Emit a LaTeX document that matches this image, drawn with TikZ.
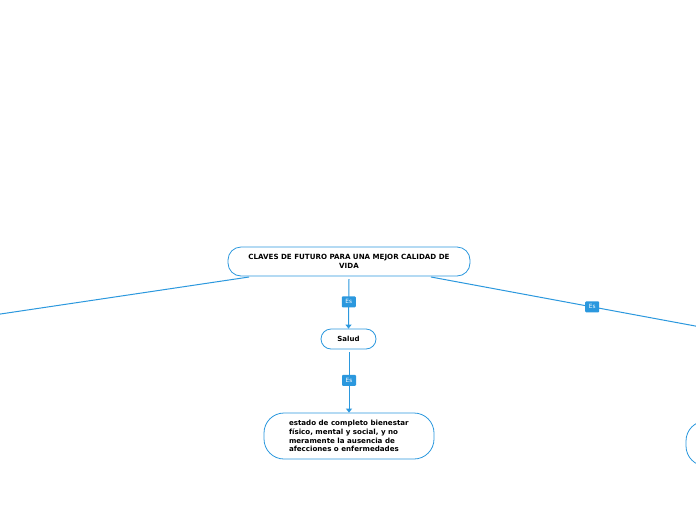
\documentclass[tikz,border=0pt]{standalone}
\usepackage{fontspec}
\setmainfont{DejaVu Sans}
\usetikzlibrary{arrows.meta}
\definecolor{mblue}{HTML}{2B98DE}
\tikzset{
  x=1pt,y=-1pt,
  topic/.style={draw=mblue,line width=0.8pt,rounded corners=13pt,fill=white,align=center,font=\fontsize{7.1}{8.8}\selectfont\bfseries,inner sep=0pt},
  conn/.style={draw=mblue,line width=1pt},
  arr/.style={conn,-{Triangle[width=6pt,length=4pt]}},
  lab/.style={fill=mblue,text=white,font=\fontsize{5.8}{6}\selectfont,rounded corners=1pt,minimum width=14pt,minimum height=11pt,inner sep=0pt}
}
\begin{document}
\begin{tikzpicture}
\clip (0,0) rectangle (696,520);
\fill[white] (0,0) rectangle (696,520);
\node[topic,minimum width=242pt,minimum height=29pt] (main) at (349,261.5) {CLAVES DE FUTURO PARA UNA MEJOR CALIDAD DE\\VIDA};
\node[topic,minimum width=55pt,minimum height=20pt,rounded corners=10pt,font=\fontsize{7}{8}\selectfont\bfseries] (salud) at (348.5,339) {Salud};
\node[topic,minimum width=170pt,minimum height=46pt,rounded corners=20pt,align=left,font=\fontsize{7.1}{8.8}\selectfont\bfseries] (def) at (349,436) {\raisebox{-1pt}{\parbox{120pt}{\raggedright estado de completo bienestar\\físico, mental y social, y no\\meramente la ausencia de\\afecciones o enfermedades}}};
\node[topic,minimum width=170pt,minimum height=45pt,rounded corners=20pt] (right) at (771,443.5) {};
\coordinate (lend) at (-60,323);
\coordinate (rend) at (760,338);
\draw[conn] (249,277) -- (lend);
\draw[conn] (431,277) -- node[lab,pos=0.49] (l3) {Es} (rend);
\draw[arr] (349,279) -- node[lab,pos=0.46] (l1) {Es} (salud.north);
\draw[arr] (349,352) -- node[lab,pos=0.47] (l2) {Es} (def.north);
\end{tikzpicture}
\end{document}
